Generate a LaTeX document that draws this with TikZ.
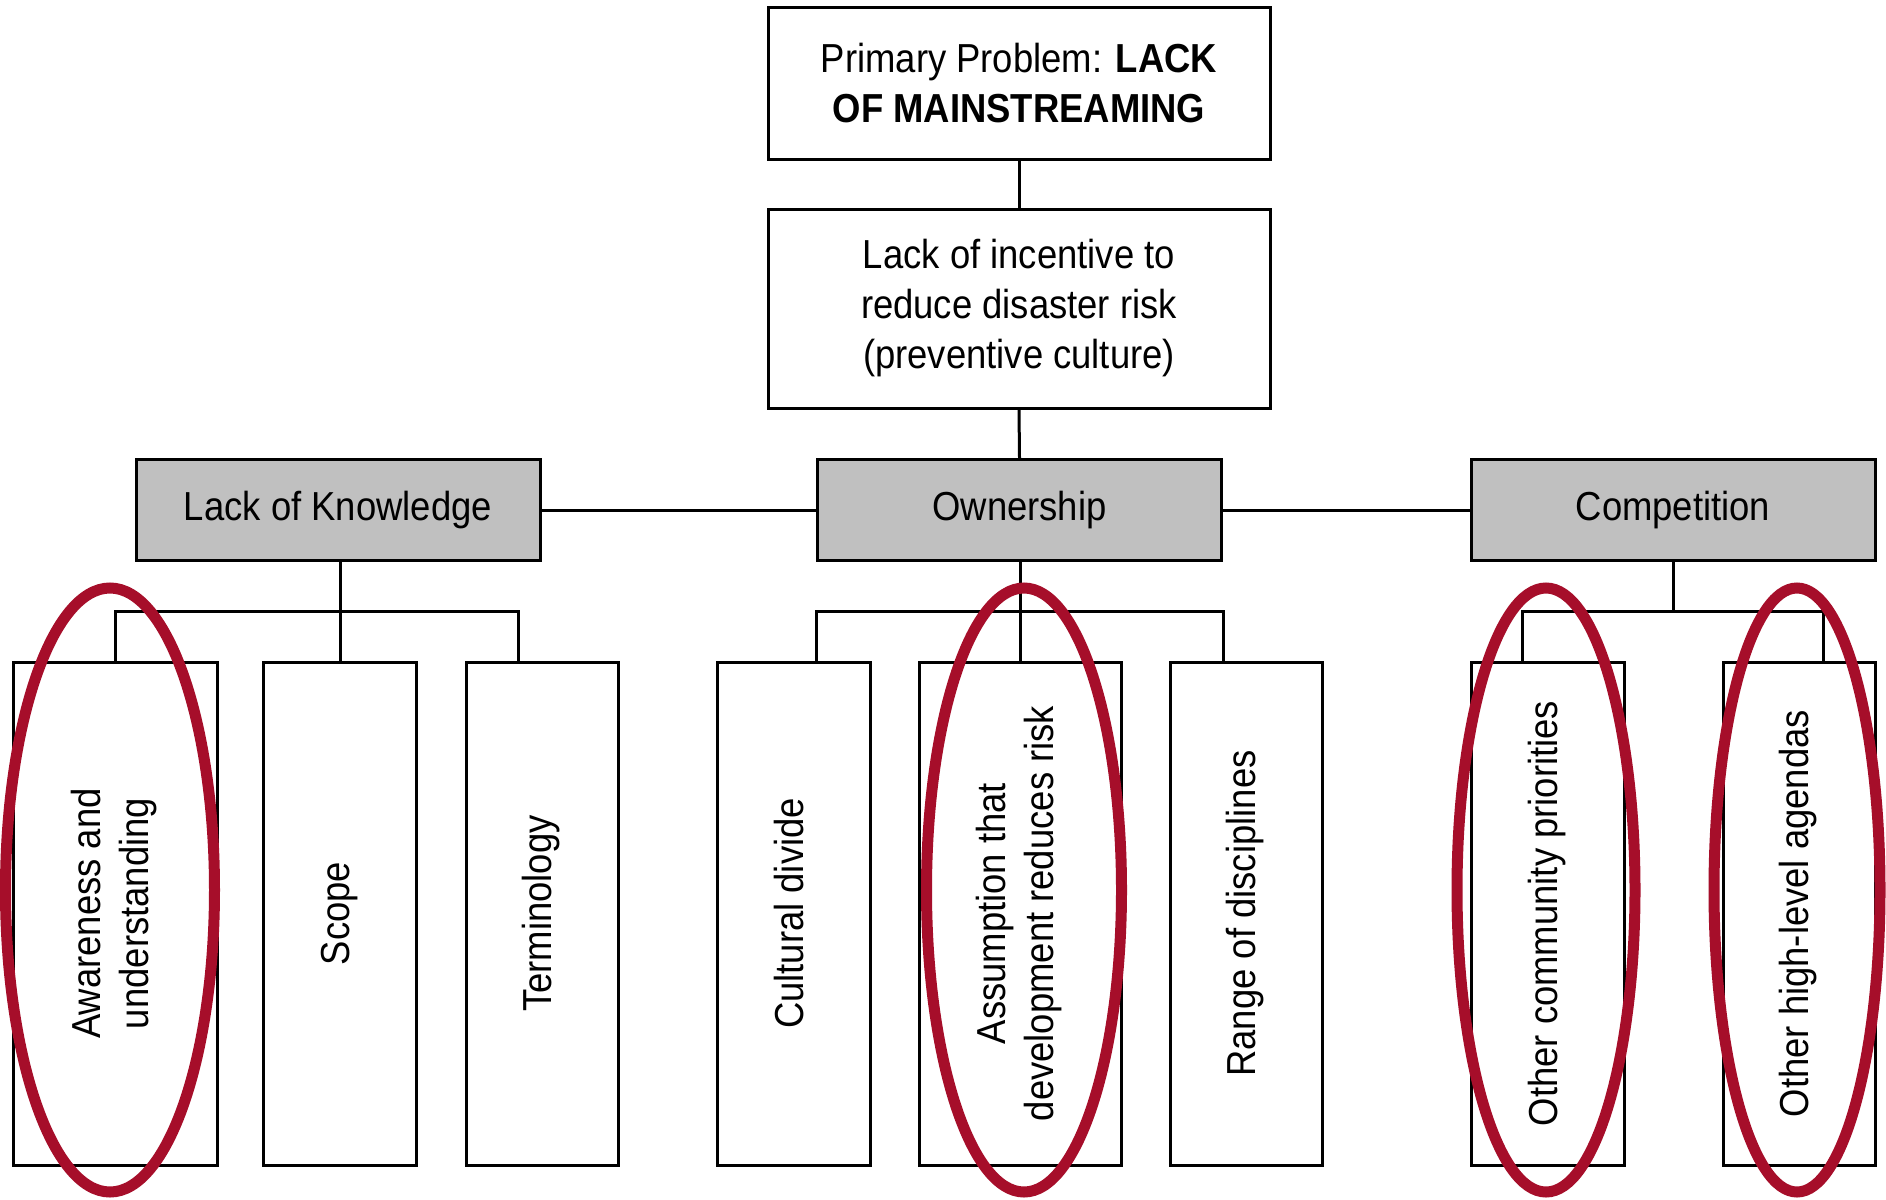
\documentclass[tikz,border=0pt]{standalone}
\usepackage{fontspec}
\setmainfont[FakeStretch=0.9]{Liberation Sans}
\usepackage{graphicx}
\definecolor{boxgray}{RGB}{192,192,192}
\definecolor{ovalred}{RGB}{166,14,42}
\newcommand{\vtext}[1]{\rotatebox{90}{\begin{tabular}{@{}c@{}}#1\end{tabular}}}
\tikzset{
  box/.style={draw=black, line width=3pt, fill=white, inner sep=0pt, align=center,
    font=\fontsize{40.5}{50}\selectfont},
  graybox/.style={box, fill=boxgray, minimum width=404pt, minimum height=101pt},
  leaf/.style={box, minimum height=503pt, font=\fontsize{40.5}{48}\selectfont},
  link/.style={draw=black, line width=3pt},
  oval/.style={draw=ovalred, line width=11pt}
}
\begin{document}
\begin{tikzpicture}[x=1pt,y=-1pt]
\useasboundingbox[fill=white] (0,0) rectangle (1886,1199);

% upper boxes
\node[box, minimum width=502pt, minimum height=151pt] (top) at (1019,83.5)
  {Primary Problem: \textbf{LACK}\\\textbf{OF MAINSTREAMING}};
\node[box, minimum width=502pt, minimum height=199pt] (inc) at (1019,308.5)
  {Lack of incentive to\\reduce disaster risk\\(preventive culture)};

% gray category boxes
\node[graybox] (lok) at (338,510) {Lack of Knowledge};
\node[graybox] (own) at (1019.5,510) {Ownership};
\node[graybox] (comp) at (1673,510) {Competition};

% leaf boxes
\node[leaf, minimum width=204pt] (aw) at (115,913.5) {\vtext{Awareness and\\understanding}};
\node[leaf, minimum width=153pt] (scope) at (340,913.5) {\vtext{Scope}};
\node[leaf, minimum width=152pt] (term) at (542,913.5) {\vtext{Terminology}};
\node[leaf, minimum width=153pt] (cult) at (793.5,913.5) {\vtext{Cultural divide}};
\node[leaf, minimum width=202pt] (assum) at (1020,913.5) {\vtext{Assumption that\\development reduces risk}};
\node[leaf, minimum width=152pt] (range) at (1246,913.5) {\vtext{Range of disciplines}};
\node[leaf, minimum width=153pt] (ocp) at (1547.5,913.5) {\vtext{Other community priorities}};
\node[leaf, minimum width=152pt] (ohl) at (1799,913.5) {\vtext{Other high-level agendas}};

% branch coordinates
\coordinate (kL) at (115,611);
\coordinate (kR) at (518,611);
\coordinate (ob) at (1019,611);
\coordinate (cL) at (1522,611);
\coordinate (cR) at (1823,611);

% connectors
\draw[link] (top.south) -- (inc.north);
\draw[link] (inc.south) -- (own.north);
\draw[link] (lok.east) -- (own.west);
\draw[link] (own.east) -- (comp.west);

\draw[link] (scope.north) -- (scope.north |- lok.south);
\draw[link] (aw.north) -- (kL) -- (kR) -- (kR |- term.north);

\draw[link] (assum.north) -- (assum.north |- own.south);
\draw[link] (own.south west |- cult.north) -- (own.south west |- ob) -- (own.south east |- ob) -- (own.south east |- range.north);

\draw[link] (comp.south) -- (comp.south |- cL);
\draw[link] (cL |- ocp.north) -- (cL) -- (cR) -- (cR |- ohl.north);

% red highlight ovals
\draw[oval] (110,890) ellipse [x radius=104.5pt, y radius=302pt];
\draw[oval] (1024,890) ellipse [x radius=97.5pt, y radius=302pt];
\draw[oval] (1546,890) ellipse [x radius=89pt, y radius=302pt];
\draw[oval] (1797,890) ellipse [x radius=83pt, y radius=302pt];
\end{tikzpicture}
\end{document}
